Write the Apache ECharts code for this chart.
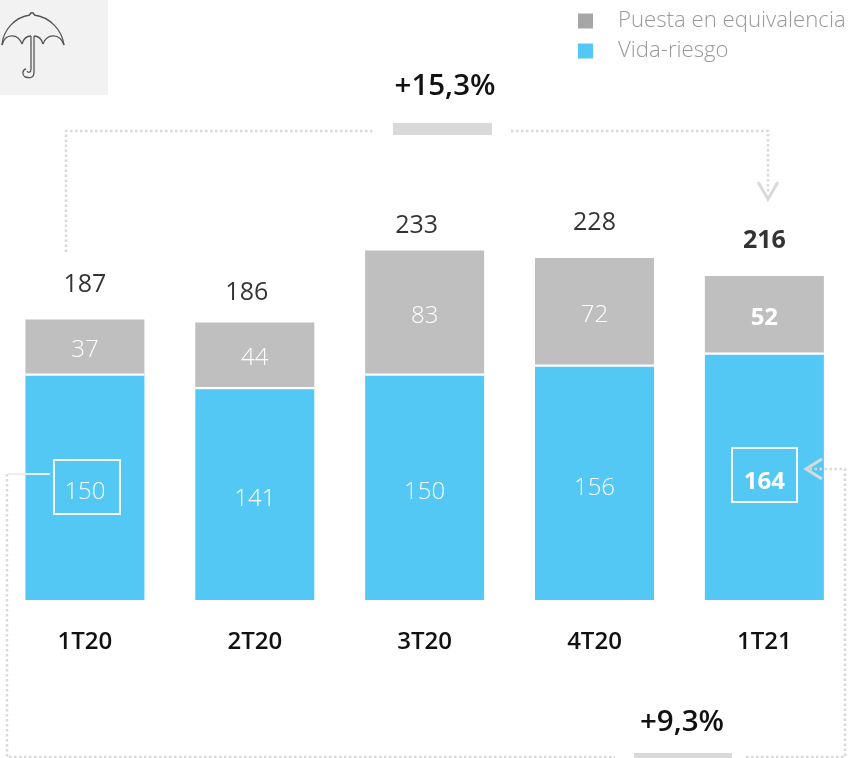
<!DOCTYPE html>
<html><head><meta charset="utf-8">
<style>html,body{margin:0;padding:0;background:#fff}#c{width:851px;height:758px}</style>
<script src="https://cdn.jsdelivr.net/npm/echarts@6/dist/echarts.min.js"></script>
</head><body><div id="c"></div>
<script>
const categories = ['1T20','2T20','3T20','4T20','1T21'];
const vidaRiesgo = [150,141,150,156,164];
const puesta = [37,44,83,72,52];
const totals = [187,186,233,228,216];
const growthTop = '+15,3%';
const growthBottom = '+9,3%';
const seriesNames = ['Puesta en equivalencia','Vida-riesgo'];

const FONT = '"Open Sans","Noto Sans",sans-serif';
const BLUE = '#54c8f5', GREY = '#bfbfbf', DOT = '#d9d9d9';
const LAST = categories.length - 1;
const BAR_W = 119;
const totalGaps = [22,16,12,23,23];
const totalShift = [0,-8,-8,0,0];

const chart = echarts.init(document.getElementById('c'), null, {renderer:'canvas'});
const segLabel = (dy) => ({
  show:true, position:'inside', color:'#fff', fontFamily:FONT, fontWeight:300, fontSize:24, offset:[0,dy]
});
const dataWithLast = (arr) => arr.map((v,i)=> i===LAST
  ? {value:v, label:{fontWeight:700}} : v);
const dotted = (points) => ({
  type:'polyline', silent:true, z:5,
  shape:{points},
  style:{stroke:DOT, fill:null, lineWidth:2.5, lineDash:[2.5,2.5]}
});
const solid = (points, stroke, lw) => ({
  type:'polyline', silent:true, z:6,
  shape:{points},
  style:{stroke, fill:null, lineWidth:lw}
});
const box = (x,y,w,h) => ({
  type:'rect', silent:true, z:20, shape:{x,y,width:w,height:h},
  style:{fill:null, stroke:'#f2f7fa', lineWidth:2}
});
const fillRect = (x,y,w,h,fill) => ({
  type:'rect', silent:true, z:4, shape:{x,y,width:w,height:h}, style:{fill}
});
const growth = (text,x,y) => ({
  type:'text', silent:true, z:6, x, y,
  style:{text, fill:'#111', font:'600 29.5px '+FONT, textAlign:'center', textVerticalAlign:'middle'}
});
const curve = (x1,y1,cpx1,cpy1,cpx2,cpy2,x2,y2) => ({
  type:'bezierCurve', silent:true, z:6,
  shape:{x1,y1,cpx1,cpy1,cpx2,cpy2,x2,y2},
  style:{fill:null, stroke:'#555', lineWidth:1.3}
});
const stick = (x1,y1,x2,y2) => ({
  type:'line', silent:true, z:6, shape:{x1,y1,x2,y2},
  style:{stroke:'#555', lineWidth:1.3}
});
const umbrella = [
  curve(2,45,3,30,15,17,30,15),
  curve(30,15,30,12,34,12,34,15),
  curve(34,15,50,17,62,30,64,45),
  curve(2,45,5,33,18,33,22,44),
  curve(22,44,24,37,28,36,31,36),
  curve(34,36,37,36,41,37,43,44),
  curve(43,44,47,33,60,33,64,45),
  stick(31,36,31,69),
  stick(34,36,34,72),
  curve(34,72,34,79,29,78,25,77),
  curve(25,77,22,75,22,70,26,69),
  curve(31,69,31,73,28,73,27,71)
];

chart.setOption({
  animation:false,
  backgroundColor:'#fff',
  grid:{left:-1.7, width:851, top:0, bottom:158, containLabel:false},
  legend:{
    orient:'vertical', left:578, top:6, itemWidth:15, itemHeight:15, itemGap:0,
    icon:'rect', selectedMode:false,
    padding:0,
    textStyle:{color:'#999', fontFamily:FONT, fontWeight:300, fontSize:22.2, padding:[5,0,0,20], lineHeight:25},
    data:[
      {name:seriesNames[0], itemStyle:{color:'#a6a6a6'}},
      {name:seriesNames[1], itemStyle:{color:BLUE}}
    ]
  },
  xAxis:{
    type:'category', data:categories,
    axisLine:{show:false}, axisTick:{show:false},
    axisLabel:{color:'#111', fontFamily:FONT, fontWeight:600, fontSize:24, margin:30}
  },
  yAxis:{type:'value', min:0, max:400, show:false, splitLine:{show:false}},
  series:[
    {name:seriesNames[1], type:'bar', stack:'a', barWidth:BAR_W,
     data:dataWithLast(vidaRiesgo), label:segLabel(5),
     itemStyle:{color:BLUE}, z:2},
    {name:seriesNames[0], type:'bar', stack:'a', barWidth:BAR_W,
     data:dataWithLast(puesta), label:segLabel(3),
     itemStyle:{color:GREY}, z:2},
    {name:'separator', type:'custom', z:3, silent:true,
     data:vidaRiesgo.map((v,i)=>[i,v]),
     renderItem:(params,api)=>{
       const p = api.coord([api.value(0),api.value(1)]);
       return {type:'rect', shape:{x:p[0]-BAR_W/2,y:p[1]-1.5,width:BAR_W,height:2.2}, style:{fill:'#fff'}};
     }},
    {name:'total', type:'scatter', symbolSize:0, z:4,
     data:totals.map((v,i)=>({
       value:v,
       label:{show:true, position:'top', distance:totalGaps[i], offset:[totalShift[i],0],
         color:'#000', fontFamily:FONT, fontSize:25,
         fontWeight:i===LAST?700:400}
     }))}
  ],
  graphic:[
    fillRect(0,0,108,95,'#f2f2f2'),
    ...umbrella,

    fillRect(393,123,99,12,'#d9d9d9'),
    growth(growthTop,445,87),
    dotted([[66,252],[66,131],[375,131]]),
    dotted([[511,131],[768,131],[768,194]]),
    solid([[758,182],[768,199],[778,182]],DOT,3),

    fillRect(634,753,98,5,'#d9d9d9'),
    growth(growthBottom,682,723),
    dotted([[7,474],[7,757],[615,757]]),
    dotted([[746,757],[845,757],[845,469],[810,469]]),
    solid([[822,459],[806,469],[822,479]],DOT,3),

    {type:'line', silent:true, z:6, shape:{x1:8,y1:474,x2:50,y2:474}, style:{stroke:'#eeeeee', lineWidth:2}},
    box(54,460,66,54),
    box(732,448,65,54)
  ]
});
</script></body></html>
